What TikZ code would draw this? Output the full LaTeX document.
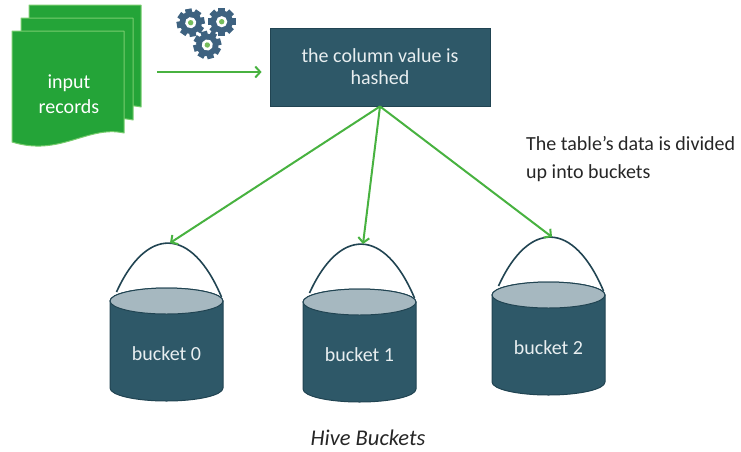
\documentclass[tikz,border=0pt]{standalone}
\usepackage{fontspec}
\setmainfont{Carlito}
\usetikzlibrary{arrows.meta}

\definecolor{hvteal}{RGB}{46,88,104}
\definecolor{hvtealdark}{RGB}{33,68,82}
\definecolor{hvrim}{RGB}{166,184,192}
\definecolor{hvgreen}{RGB}{72,178,64}
\definecolor{hvdoc}{RGB}{36,164,56}
\definecolor{hvdocedge}{RGB}{120,204,110}
\definecolor{hvgear}{RGB}{62,98,128}
\definecolor{hvgeardot}{RGB}{118,188,92}
\definecolor{hvlight}{RGB}{232,238,240}
\definecolor{hvtext}{RGB}{38,38,38}

\tikzset{
  docpage/.style={fill=hvdoc, draw=hvdocedge, line width=1pt, line join=round},
  flow/.style={draw=hvgreen, line width=2pt, -{Straight Barb[length=5pt,width=11pt]}},
  hashbox/.style={draw=hvtealdark, fill=hvteal, line width=0.8pt, minimum width=220pt,
    minimum height=78pt, align=center, text=hvlight, font=\fontsize{20}{22}\selectfont},
  bucketbody/.style={fill=hvteal, draw=hvtealdark, line width=1pt},
  bucketrim/.style={fill=hvrim, draw=hvtealdark, line width=1pt},
  bailhandle/.style={draw=hvtealdark, line width=1.6pt},
  bucketlabel/.style={text=hvlight, font=\fontsize{20}{24}\selectfont},
  notetext/.style={text=hvtext, align=left, inner sep=0pt, font=\fontsize{20}{28}\selectfont},
  captiontext/.style={text=hvtext, inner sep=0pt, font=\fontsize{22.5}{26}\selectfont\itshape},
}

% one sheet of the stacked documents, wavy lower edge
\newcommand\hvsheet[2]{%
  \filldraw[docpage, shift={(#1,#2)}] (0,0) -- (112,0) -- (112,102)
    .. controls (76,94) and (48,126) .. (0,111) -- cycle;}

% a gear: four bars through the hub give eight teeth
\newcommand\hvgearat[3]{%
  \begin{scope}[shift={(#1,#2)}, rotate=#3]
    \foreach \a in {0,45,90,135}
      \fill[hvgear, rotate=\a] (-3.3,-14) rectangle (3.3,14);
    \fill[hvgear] (0,0) circle[radius=11.2];
    \fill[white] (0,0) circle[radius=5.6];
    \fill[hvgeardot] (0,0) circle[radius=2.7];
  \end{scope}}

% a bucket: #1 name of the bail top, #2 centre x, #3 rim centre y, #4 label
\newcommand\hvbucket[4]{%
  \begin{scope}[shift={(#2,#3)}]
    \filldraw[bucketbody] (-56.5,0) -- (-56.5,87)
      arc[start angle=180, end angle=0, x radius=56.5, y radius=13]
      -- (56.5,0) arc[start angle=0, end angle=-180, x radius=56.5, y radius=13] -- cycle;
    \filldraw[bucketrim] (0,0) ellipse[x radius=56.5, y radius=13];
    \draw[bailhandle] (-50,-9) .. controls (-20,-75) and (25,-75) .. (55,-4);
    \coordinate (#1) at (3.5,-58);
    \node[bucketlabel] (#1label) at (0,53) {#4};
  \end{scope}}

\begin{document}
\begin{tikzpicture}[x=1pt, y=-1pt]
  \useasboundingbox (0,0) rectangle (741,451);

  % stacked input documents
  \hvsheet{29}{5}
  \hvsheet{21}{18}
  \hvsheet{12}{31}
  \node[text=white, align=center, font=\fontsize{20}{25}\selectfont] (inrec) at (69,94) {input\\records};

  % gears above the feed arrow
  \hvgearat{190.7}{22.7}{10}
  \hvgearat{221.7}{21.7}{0}
  \hvgearat{207.3}{45}{15}

  % hashing step
  \node[hashbox] (hash) at (380,67) {the column value is\\hashed};
  \coordinate (feed) at (157,72);
  \draw[flow, shorten >=8pt] (feed) -- (feed -| hash.west);

  % buckets
  \hvbucket{b0}{166.5}{301}{bucket 0}
  \hvbucket{b1}{359.5}{302}{bucket 1}
  \hvbucket{b2}{548.5}{295}{bucket 2}

  \draw[flow] (hash.south) -- (b0);
  \draw[flow] (hash.south) -- (b1);
  \draw[flow] (hash.south) -- (b2);

  \node[notetext, anchor=north west] (note) at (526,136) {The table's data is divided\\up into buckets};

  \node[captiontext, anchor=base] (caption) at (368,445) {Hive Buckets};
\end{tikzpicture}
\end{document}
